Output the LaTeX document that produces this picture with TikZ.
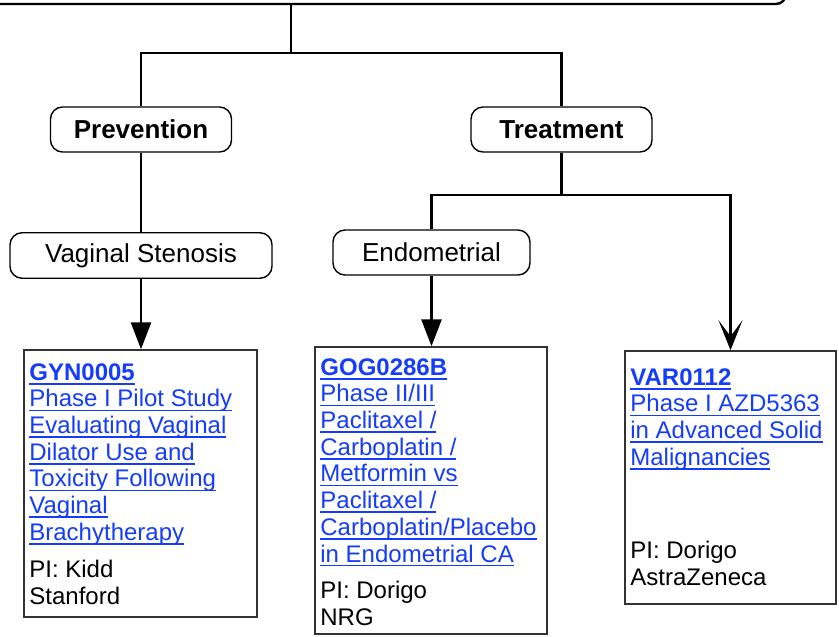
\documentclass[tikz,border=0pt]{standalone}
\usepackage{fontspec}
\setmainfont{Liberation Sans}
\usetikzlibrary{arrows.meta}
\definecolor{linkblue}{RGB}{20,60,250}
\definecolor{boxgray}{RGB}{50,50,50}
\newcommand\lnk[1]{\setbox0\hbox{#1}\rlap{\rule[-2.2pt]{\wd0}{0.8pt}}\box0}
\begin{document}
\begin{tikzpicture}[x=0.5pt,y=-0.5pt,
  conn/.style={line width=1.35pt, black},
  catbox/.style={draw, line width=0.7pt, rounded corners=6pt, fill=white, font=\fontsize{13}{15}\selectfont\bfseries, inner sep=0pt},
  subbox/.style={draw, line width=0.7pt, rounded corners=6pt, fill=white, font=\fontsize{13}{15}\selectfont, inner sep=0pt},
  trialbox/.style={draw=boxgray, line width=0.75pt, fill=white, inner sep=0pt},
  trialtext/.style={anchor=north west, inner sep=0pt, align=left, text=linkblue, font=\fontsize{12}{13.35}\selectfont},
  tipA/.style={-{Triangle[length=13.5pt,width=10pt]}},
  tipB/.style={-{Stealth[length=15pt,width=12pt,inset=8pt]}}
]
\useasboundingbox (0,0) rectangle (839,636);
\clip (0,0) rectangle (839,636);
\fill[white] (0,0) rectangle (839,636);

\node[draw, line width=1.2pt, rounded corners=5pt, minimum width=408pt, minimum height=32pt, inner sep=0pt] (top) at (378,-28) {};

\node[catbox, minimum width=90.5pt, minimum height=22.5pt] (prev) at (141,129.5) {Prevention};
\node[catbox, minimum width=90.5pt, minimum height=22.5pt] (treat) at (561.5,129.5) {Treatment};
\node[subbox, minimum width=131pt, minimum height=22.75pt] (vs) at (141,255.5) {Vaginal Stenosis};
\node[subbox, minimum width=98.5pt, minimum height=22.5pt] (endo) at (431.5,252.5) {Endometrial};

\node[trialbox, minimum width=116.5pt, minimum height=133.5pt] (gyn) at (140.5,483.5) {};
\node[trialbox, minimum width=116pt, minimum height=143.5pt] (gog) at (431,490.5) {};
\node[trialbox, minimum width=105.5pt, minimum height=126.5pt] (var) at (730.5,477.5) {};

\node[trialtext] (gyntxt) at (29,363) {\lnk{\textbf{GYN0005}}\\
\lnk{Phase I Pilot Study}\\
\lnk{Evaluating Vaginal}\\
\lnk{Dilator Use and}\\
\lnk{Toxicity Following}\\
\lnk{Vaginal}\\
\lnk{Brachytherapy}\\[5.15pt]
\color{black}PI: Kidd\\
\color{black}Stanford};

\node[trialtext] (gogtxt) at (320,358) {\lnk{\textbf{GOG0286B}}\\
\lnk{Phase II/III}\\
\lnk{Paclitaxel /}\\
\lnk{Carboplatin /}\\
\lnk{Metformin vs}\\
\lnk{Paclitaxel /}\\
\lnk{Carboplatin/Placebo}\\
\lnk{in Endometrial CA}\\[5pt]
\color{black}PI: Dorigo\\
\color{black}NRG};

\node[trialtext] (vartxt) at (630,368) {\lnk{\textbf{VAR0112}}\\
\lnk{Phase I AZD5363}\\
\lnk{in Advanced Solid}\\
\lnk{Malignancies}\\[33.4pt]
\color{black}PI: Dorigo\\
\color{black}AstraZeneca};

\coordinate (j1) at (291,53);
\coordinate (j2) at (561.5,195);
\draw[conn] (top.south -| j1) -- (j1);
\draw[conn] (prev.north) |- (j1) -| (treat.north);
\draw[conn] (prev.south) -- (vs.north);
\draw[conn, tipA] (vs.south) -- (vs.south |- gyn.north);
\draw[conn] (treat.south) -- (j2);
\draw[conn] (j2) -| (endo.north);
\draw[conn, tipA] (endo.south) -- (endo.south |- gog.north);
\draw[conn, tipB] (j2) -| (var.north);
\end{tikzpicture}
\end{document}
